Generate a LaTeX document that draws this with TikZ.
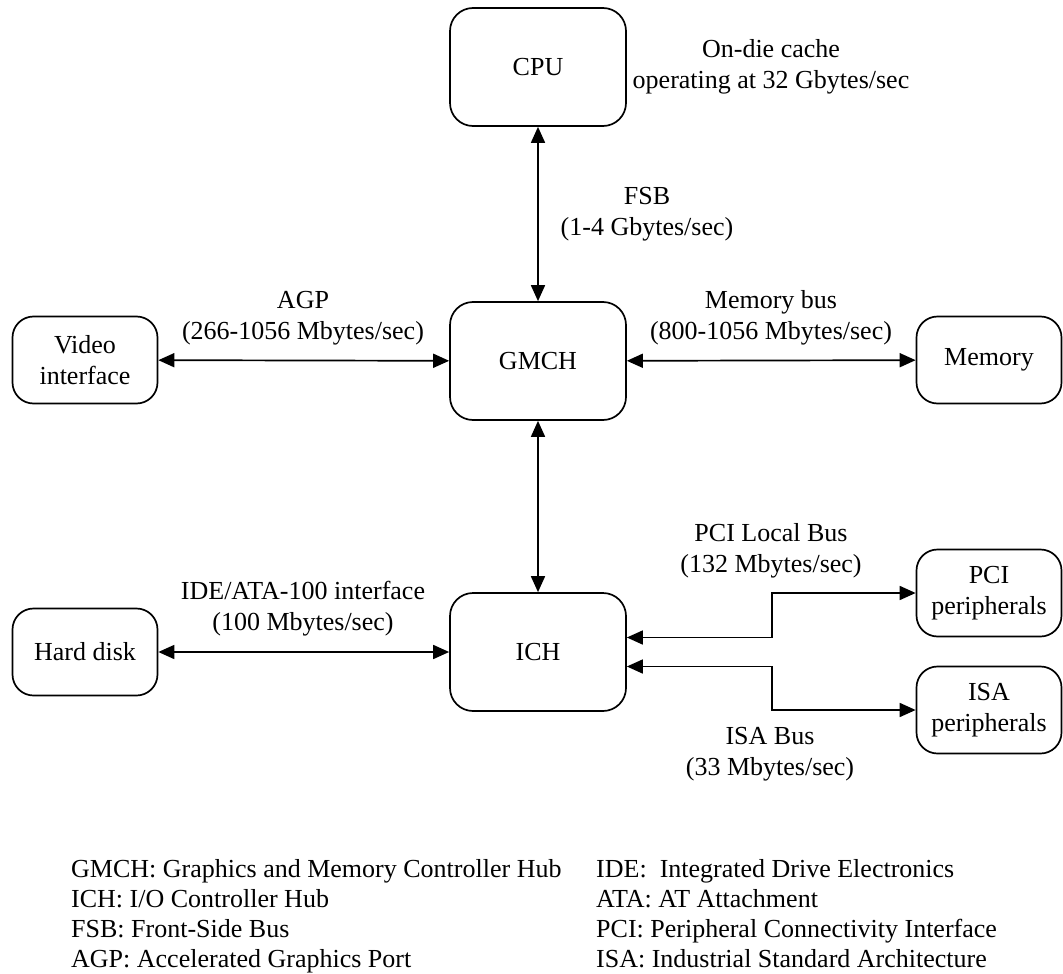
\documentclass[tikz,border=0pt]{standalone}
\usepackage{fontspec}
\setmainfont{Liberation Serif}
\usetikzlibrary{arrows.meta}
\begin{document}
\begin{tikzpicture}[x=1pt,y=-1pt,
  font=\fontsize{26}{31}\selectfont,
  unit/.style={draw, line width=1.7pt, align=center, inner sep=0pt},
  hub/.style={unit, rounded corners=23pt, minimum width=176pt, minimum height=118pt},
  dev/.style={unit, rounded corners=21pt, minimum width=145pt, minimum height=87pt},
  bus/.style={line width=1.7pt, {Triangle[length=16pt,width=14pt]}-{Triangle[length=16pt,width=14pt]}},
  lbl/.style={align=center, inner sep=0pt},
  key/.style={anchor=base west, inner sep=0pt}
]
\useasboundingbox (0,0) rectangle (1063,974);

% hubs and processor
\node[hub] (cpu)  at (538,67)  {CPU};
\node[hub] (gmch) at (538,361) {GMCH};
\node[hub] (ich)  at (538,652) {ICH};

% peripheral units
\node[dev] (video)  at (85,360)   {Video\\interface};
\node[dev] (memory) at (989,360)  {Memory};
\node[dev] (disk)   at (85,652)   {Hard disk};
\node[dev] (pci)    at (989,593)  {PCI\\peripherals};
\node[dev] (isa)    at (989,710)  {ISA\\peripherals};

% buses
\draw[bus] (cpu) -- (gmch);
\draw[bus] (gmch) -- (ich);
\draw[bus] (video) -- (gmch);
\draw[bus] (gmch) -- (memory);
\draw[bus] (disk) -- (ich);
\draw[bus] ([yshift=14.5pt]ich.east) -- ++(145,0) |- (pci.west);
\draw[bus] ([yshift=-14.5pt]ich.east) -- ++(145,0) |- (isa.west);

% bus labels
\node[lbl] (cache)  at (771,67)  {On-die cache\\operating at 32 Gbytes/sec};
\node[lbl] (fsb)    at (647,214) {FSB\\(1-4 Gbytes/sec)};
\node[lbl] (agp)    at (303,318) {AGP\\(266-1056 Mbytes/sec)};
\node[lbl] (membus) at (771,318) {Memory bus\\(800-1056 Mbytes/sec)};
\node[lbl] (ide)    at (303,609) {IDE/ATA-100 interface\\(100 Mbytes/sec)};
\node[lbl] (pcibus) at (771,551) {PCI Local Bus\\(132 Mbytes/sec)};
\node[lbl] (isabus) at (770,754) {ISA Bus\\(33 Mbytes/sec)};

% abbreviations
\node[key] (k1) at (71,877) {GMCH: Graphics and Memory Controller Hub};
\node[key] (k2) at (71,907) {ICH: I/O Controller Hub};
\node[key] (k3) at (71,937) {FSB: Front-Side Bus};
\node[key] (k4) at (71,967) {AGP: Accelerated Graphics Port};
\node[key] (k5) at (596,877) {IDE:\ \ Integrated Drive Electronics};
\node[key] (k6) at (596,907) {ATA: AT Attachment};
\node[key] (k7) at (596,937) {PCI: Peripheral Connectivity Interface};
\node[key] (k8) at (596,967) {ISA: Industrial Standard Architecture};
\end{tikzpicture}
\end{document}
